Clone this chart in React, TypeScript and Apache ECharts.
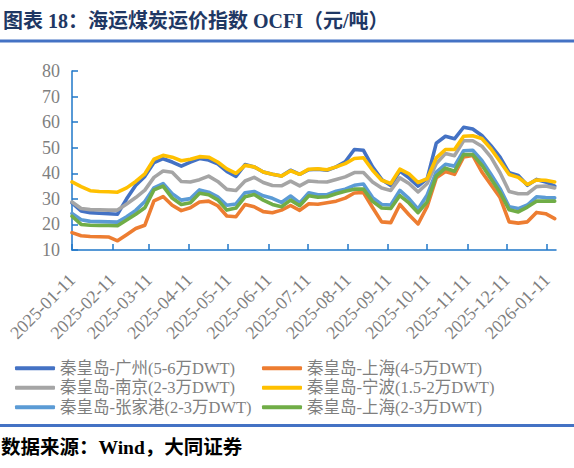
import React, { useEffect, useRef } from "react";
import * as echarts from "echarts";

const dates = [
  "2025-01-11", "2025-01-18", "2025-01-25", "2025-02-01", "2025-02-08", "2025-02-15",
  "2025-02-22", "2025-03-01", "2025-03-08", "2025-03-15", "2025-03-22", "2025-03-29",
  "2025-04-05", "2025-04-12", "2025-04-19", "2025-04-26", "2025-05-03", "2025-05-10",
  "2025-05-17", "2025-05-24", "2025-05-31", "2025-06-07", "2025-06-14", "2025-06-21",
  "2025-06-28", "2025-07-05", "2025-07-12", "2025-07-19", "2025-07-26", "2025-08-02",
  "2025-08-09", "2025-08-16", "2025-08-23", "2025-08-30", "2025-09-06", "2025-09-13",
  "2025-09-20", "2025-09-27", "2025-10-04", "2025-10-11", "2025-10-18", "2025-10-25",
  "2025-11-01", "2025-11-08", "2025-11-15", "2025-11-22", "2025-11-29", "2025-12-06",
  "2025-12-13", "2025-12-20", "2025-12-27", "2026-01-03", "2026-01-10", "2026-01-17",
];

// 秦皇岛-广州(5-6万DWT)
const guangzhou = [
  28.4, 25.3, 24.6, 24.4, 24.2, 24.0, 30.0, 35.3, 38.8, 44.2, 45.7, 44.4,
  42.8, 44.4, 45.8, 45.2, 43.7, 40.7, 38.8, 43.4, 42.5, 40.5, 39.6, 38.9,
  41.2, 39.6, 41.4, 41.6, 41.2, 42.5, 44.5, 49.3, 49.0, 42.5, 37.6, 35.2,
  40.9, 38.2, 35.0, 37.9, 51.8, 54.5, 53.5, 58.0, 57.3, 54.8, 50.8, 46.3,
  40.2, 39.1, 35.3, 37.6, 36.6, 35.0,
];
// 秦皇岛-上海(4-5万DWT)
const shanghaiLarge = [
  16.8, 15.6, 15.3, 15.2, 15.1, 13.6, 16.0, 18.4, 19.7, 29.2, 30.9, 27.5,
  25.4, 26.5, 28.8, 29.1, 27.3, 23.3, 23.0, 27.8, 26.9, 25.0, 24.6, 25.6,
  27.4, 25.5, 28.1, 27.9, 28.5, 29.1, 30.3, 32.3, 32.5, 26.6, 21.0, 20.7,
  27.8, 23.8, 20.2, 27.0, 38.2, 40.7, 39.6, 46.4, 47.0, 40.5, 35.5, 30.5,
  21.0, 20.5, 21.0, 24.7, 24.2, 22.3,
];
// 秦皇岛-南京(2-3万DWT)
const nanjing = [
  28.8, 26.2, 25.8, 25.7, 25.6, 25.6, 28.0, 30.5, 33.4, 38.4, 40.9, 40.4,
  36.8, 36.6, 37.5, 38.9, 36.8, 33.7, 33.3, 37.0, 38.4, 36.4, 35.2, 35.1,
  36.9, 35.1, 37.0, 36.7, 36.6, 37.6, 38.6, 40.3, 40.3, 36.6, 34.2, 33.3,
  38.2, 36.0, 32.7, 36.0, 43.8, 47.7, 46.9, 52.7, 52.7, 50.6, 46.3, 40.2,
  32.9, 32.0, 32.0, 34.8, 35.0, 34.3,
];
// 秦皇岛-宁波(1.5-2万DWT)
const ningbo = [
  36.6, 34.8, 33.2, 32.9, 32.8, 32.6, 34.3, 36.8, 39.8, 45.5, 47.0, 46.3,
  44.9, 45.5, 46.5, 46.3, 44.4, 41.7, 40.0, 43.1, 42.5, 40.5, 39.6, 38.9,
  41.0, 39.6, 41.6, 41.8, 41.4, 42.5, 43.8, 45.8, 46.1, 41.2, 37.3, 36.0,
  41.6, 39.8, 36.4, 37.9, 46.0, 49.3, 49.3, 54.5, 54.7, 53.6, 49.6, 44.6,
  39.5, 38.4, 35.6, 37.4, 37.3, 36.6,
];
// 秦皇岛-张家港(2-3万DWT)
const zhangjiagang = [
  24.3, 21.8, 21.2, 21.1, 21.0, 20.9, 23.0, 25.5, 29.0, 34.3, 36.0, 32.0,
  29.5, 30.1, 33.5, 32.6, 30.8, 27.5, 28.0, 32.4, 32.9, 31.2, 30.2, 28.6,
  31.1, 28.4, 32.4, 31.6, 31.6, 33.0, 33.8, 35.3, 35.8, 30.5, 27.8, 27.6,
  33.3, 30.1, 26.0, 31.5, 40.5, 43.5, 42.8, 48.8, 49.0, 45.0, 39.6, 34.0,
  26.9, 26.2, 27.6, 30.8, 30.5, 30.4,
];
// 秦皇岛-上海(2-3万DWT)
const shanghaiSmall = [
  23.2, 20.0, 19.7, 19.6, 19.6, 19.5, 21.7, 24.0, 26.5, 33.5, 35.0, 30.3,
  27.8, 28.5, 32.2, 31.6, 29.6, 25.6, 26.4, 30.8, 31.7, 29.5, 27.8, 26.9,
  29.5, 27.3, 31.2, 30.6, 30.8, 32.0, 33.0, 33.8, 33.8, 29.0, 26.4, 26.2,
  31.3, 28.4, 24.6, 28.8, 39.0, 42.0, 40.8, 47.3, 47.3, 43.2, 37.9, 32.5,
  25.7, 24.9, 26.8, 29.1, 29.1, 29.1,
];

const seriesNames = [
  "秦皇岛-广州(5-6万DWT)",
  "秦皇岛-上海(4-5万DWT)",
  "秦皇岛-南京(2-3万DWT)",
  "秦皇岛-宁波(1.5-2万DWT)",
  "秦皇岛-张家港(2-3万DWT)",
  "秦皇岛-上海(2-3万DWT)",
];
const seriesValues = [guangzhou, shanghaiLarge, nanjing, ningbo, zhangjiagang, shanghaiSmall];
const seriesColors = ["#4472C4", "#ED7D31", "#A5A5A5", "#FFC000", "#5B9BD5", "#70AD47"];

const tickDates = [
  "2025-01-11", "2025-02-11", "2025-03-11", "2025-04-11", "2025-05-11", "2025-06-11",
  "2025-07-11", "2025-08-11", "2025-09-11", "2025-10-11", "2025-11-11", "2025-12-11",
  "2026-01-11",
];
const axisStart = "2025-01-11";
const axisEnd = "2026-01-18";
const yMin = 10;
const yMax = 80;
const yStep = 10;

const titleText = "图表 18：海运煤炭运价指数 OCFI（元/吨）";
const sourceText = "数据来源：Wind，大同证券";

const DAY = 86400000;
function utc(s: string): number {
  const [y, m, d] = s.split("-").map(Number);
  return Date.UTC(y, m - 1, d);
}
function dayOf(s: string): number {
  return Math.round((utc(s) - utc(axisStart)) / DAY);
}
function pad(n: number) {
  return n < 10 ? "0" + n : "" + n;
}
function fmtDay(v: number) {
  const d = new Date(utc(axisStart) + Math.round(v) * DAY);
  return d.getUTCFullYear() + "-" + pad(d.getUTCMonth() + 1) + "-" + pad(d.getUTCDate());
}

const AXIS_BLUE = "#1F77C9";
const LABEL_GRAY = "#7F7F7F";
const SERIF = "'Liberation Serif', 'Noto Sans CJK SC', serif";

export default function App() {
  const ref = useRef<HTMLDivElement>(null);
  useEffect(() => {
    if (!ref.current) return;
    const chart = echarts.init(ref.current, null, { renderer: "svg" });
    const tickValues = tickDates.map(dayOf);
    const legendText = { color: LABEL_GRAY, fontSize: 16.5, fontFamily: SERIF, lineHeight: 16 };
    const option: any = {
      animation: false,
      backgroundColor: "#ffffff",
      grid: { left: 72, right: 18, top: 71, bottom: 218, containLabel: false },
      xAxis: {
        type: "value",
        min: 0,
        max: dayOf(axisEnd),
        axisLine: { show: true, lineStyle: { color: AXIS_BLUE, width: 1.5 } },
        axisTick: {
          show: true,
          inside: true,
          length: 6,
          customValues: tickValues,
          lineStyle: { color: AXIS_BLUE, width: 1.5 },
        },
        axisLabel: {
          customValues: tickValues,
          rotate: 45,
          margin: 27,
          color: LABEL_GRAY,
          fontSize: 18,
          fontFamily: SERIF,
          formatter: (v: number) => fmtDay(v),
        },
        splitLine: { show: false },
        minorTick: { show: false },
      },
      yAxis: {
        type: "value",
        min: yMin,
        max: yMax,
        interval: yStep,
        axisLine: { show: true, lineStyle: { color: AXIS_BLUE, width: 1.5 } },
        axisTick: { show: true, inside: true, length: 6, lineStyle: { color: AXIS_BLUE, width: 1.5 } },
        axisLabel: { color: LABEL_GRAY, fontSize: 18, fontFamily: SERIF, margin: 12 },
        splitLine: { show: false },
      },
      legend: [
        {
          orient: "vertical",
          left: 15,
          top: 360,
          data: [seriesNames[0], seriesNames[2], seriesNames[4]],
          icon: "roundRect",
          itemWidth: 40,
          itemHeight: 4,
          itemGap: 3,
          padding: 0,
          textStyle: legendText,
        },
        {
          orient: "vertical",
          left: 262,
          top: 360,
          data: [seriesNames[1], seriesNames[3], seriesNames[5]],
          icon: "roundRect",
          itemWidth: 40,
          itemHeight: 4,
          itemGap: 3,
          padding: 0,
          textStyle: legendText,
        },
      ],
      series: seriesNames.map((name, i) => ({
        name,
        type: "line",
        data: dates.map((d, j) => [dayOf(d), seriesValues[i][j]]),
        showSymbol: false,
        symbol: "none",
        color: seriesColors[i],
        lineStyle: { width: 3.6, color: seriesColors[i], cap: "round", join: "round" },
      })),
      graphic: [
        {
          type: "text",
          x: 3,
          y: 21,
          style: {
            text: titleText,
            fill: "#1F3864",
            fontSize: 20,
            fontWeight: "bold",
            fontFamily: SERIF,
            verticalAlign: "middle",
          },
        },
        { type: "rect", shape: { x: 0, y: 39.5, width: 574, height: 3 }, style: { fill: "#4472C4" } },
        { type: "rect", shape: { x: 0, y: 424, width: 574, height: 3 }, style: { fill: "#4472C4" } },
        {
          type: "text",
          x: 1,
          y: 447,
          style: {
            text: sourceText,
            fill: "#000000",
            fontSize: 19.5,
            fontWeight: "bold",
            fontFamily: SERIF,
            verticalAlign: "middle",
          },
        },
      ],
    };
    chart.setOption(option);
    return () => chart.dispose();
  }, []);
  return (
    <div
      ref={ref}
      style={{ position: "fixed", left: 0, top: 0, width: 574, height: 468, background: "#fff" }}
    />
  );
}
